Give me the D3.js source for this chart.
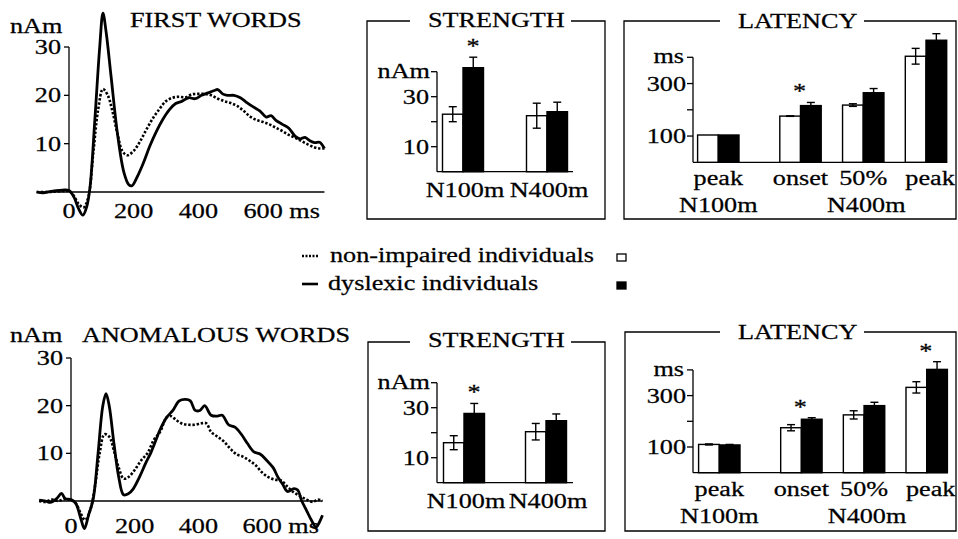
<!DOCTYPE html>
<html>
<head>
<meta charset="utf-8">
<script src="https://cdn.jsdelivr.net/npm/d3@7"></script>
<style>
  body { margin: 0; background: #fff; }
  svg { display: block; }
  text { font-family: "Liberation Serif", "DejaVu Serif", serif; font-size: 20px; fill: #000; stroke: #000; stroke-width: 0.25; }
  .axis-line { stroke: #000; stroke-width: 1.3; fill: none; }
  .frame { stroke: #000; stroke-width: 1.3; fill: none; }
</style>
</head>
<body>
<svg id="fig" width="958" height="539"></svg>
<script>
// ---- data ----
// waveforms: [ms, nAm]
var firstDyslexic = [[-100,0],[-80,-0.2],[-60,0.1],[-40,0.3],[-20,0.4],[0,0.3],[15,-1],[30,-3.5],[43,-4.8],[55,-3],[65,1],[80,15],[95,30],[105,37],[115,33],[130,24],[150,12],[170,4],[185,1.5],[195,1.3],[210,3],[230,6],[250,9.5],[270,12.5],[290,15],[310,17],[330,18.3],[350,18.8],[370,19.5],[390,19.3],[410,20],[430,20.5],[450,21],[460,21.2],[475,20.3],[490,20],[510,20],[530,19.5],[550,18.5],[570,17.6],[590,16.8],[610,15.5],[625,15.8],[640,14.8],[660,14],[680,13.2],[700,11.5],[715,11],[730,11.3],[745,10.6],[760,10.2],[775,10.3],[790,9]];
var firstControl = [[-100,0],[-60,0],[-20,0.2],[0,0.2],[15,-0.8],[30,-2.5],[45,-3.2],[60,-1],[75,8],[90,17],[105,21.3],[120,20],[135,16.5],[150,12],[165,8.5],[180,7.6],[200,8.5],[220,10.5],[240,13],[260,15.3],[280,17.2],[300,18.8],[320,19.5],[340,19.7],[360,19.6],[380,20.2],[400,20.3],[420,20.3],[440,20],[460,19.3],[480,18.8],[500,18.4],[520,17.8],[540,16.8],[560,15.6],[580,14.9],[600,14.5],[620,14],[640,13.3],[660,12.6],[680,11.8],[700,11.2],[720,10.5],[740,9.8],[760,9.2],[775,9],[790,9]];
var anomDyslexic = [[-100,0.2],[-80,0],[-65,-0.3],[-45,0.5],[-30,1.6],[-18,0.5],[0,0.3],[15,-0.5],[30,-3.5],[42,-5.8],[55,-3],[70,0.5],[85,10],[100,20],[110,22.5],[120,20],[135,12],[150,5],[165,1.3],[180,1.5],[195,2.5],[215,5],[235,8],[250,10],[265,12.5],[280,15],[300,17.5],[320,19],[340,21],[360,21.3],[375,21],[390,19],[405,19],[420,20],[440,18],[460,17.8],[475,18],[495,16],[515,15.5],[535,14],[555,12],[575,10.3],[595,9.8],[615,8.5],[635,7],[650,5],[665,3.5],[680,2],[700,2.6],[712,2.3],[725,0],[740,-2],[755,-4],[770,-5.5],[780,-4.5],[790,-3]];
var anomControl = [[-100,0],[-80,-0.2],[-60,0.3],[-40,0],[-20,0.4],[0,0.2],[15,-0.5],[30,-2.5],[44,-4],[60,-2],[75,3],[90,10],[105,14],[120,13.5],[135,10.5],[150,7],[165,4.7],[180,5],[200,6.5],[220,8.5],[240,10],[260,12.8],[280,14.5],[300,17.5],[315,17.8],[330,17],[350,16.2],[370,16],[390,16],[410,16.3],[425,16.3],[440,14.5],[460,13.5],[480,12.5],[500,11],[520,9.8],[540,9.3],[560,8.5],[580,7.5],[600,6],[620,5],[640,4.5],[660,4.3],[680,3],[700,1.8],[720,1],[740,0.3],[760,-0.2],[775,0.3],[790,0]];

var waveYTicks = [10, 20, 30];
var waveXTicks = [0, 200, 400, 600];

// strength bars (nAm)
var strengthCats = ["N100m", "N400m"];
var strengthTicks = [10, 20, 30, 40];
var strengthFirstControl = [23, 22.4];
var strengthFirstControlErr = [3, 5];
var strengthFirstDyslexic = [41.6, 24];
var strengthFirstDyslexicErr = [4.2, 3.8];
var strengthAnomControl = [16, 20.4];
var strengthAnomControlErr = [2.8, 3.3];
var strengthAnomDyslexic = [27.7, 24.8];
var strengthAnomDyslexicErr = [4, 2.7];
var strengthFirstStars = ["N100m"];
var strengthAnomStars = ["N100m"];

// latency bars (ms)
var latencyCats = ["peak", "onset", "50%", "peak "];
var latencySlots = [0, 1.31, 2.31, 3.31];
var latencyTicks = [100, 200, 300, 400];
var latencyFirstControl = [104, 176, 218, 404];
var latencyFirstControlErr = [0, 1, 5, 30];
var latencyFirstDyslexic = [104, 216, 265, 465];
var latencyFirstDyslexicErr = [0, 12, 16, 25];
var latencyAnomControl = [110, 175, 225, 332];
var latencyAnomControlErr = [2, 12, 16, 22];
var latencyAnomDyslexic = [108, 208, 261, 402];
var latencyAnomDyslexicErr = [2, 6, 13, 30];
var latencyFirstStars = ["onset"];
var latencyAnomStars = ["onset", "peak "];

var SX = 1.31; // the print is stretched sideways

var svg = d3.select("#fig");

/*
  addText: places a horizontally stretched text label
*/
function addText(sel, x, y, str, anchor) {
  return sel
    .append("text")
    .attr("transform", "translate(" + x + "," + y + ") scale(" + SX + ",1)")
    .attr("text-anchor", anchor || "start")
    .text(str);
}

/*
  drawWaveform: source strength curves of one condition
*/
function drawWaveform(cfg) {
  var g = svg.append("g");
  var x = d3.scaleLinear().domain([0, 600]).range(cfg.xRange);
  var y = d3.scaleLinear().domain([0, 30]).range(cfg.yRange);

  // axes
  g.append("line").attr("class", "axis-line")
    .attr("x1", x(0)).attr("x2", x(0))
    .attr("y1", y(30)).attr("y2", y(0));
  g.append("line").attr("class", "axis-line")
    .attr("x1", x(-100)).attr("x2", x(790))
    .attr("y1", y(0)).attr("y2", y(0));

  waveYTicks.forEach(function (t) {
    g.append("line").attr("class", "axis-line")
      .attr("x1", x(0) - 5).attr("x2", x(0))
      .attr("y1", y(t)).attr("y2", y(t));
    addText(g, x(0) - 8, y(t) + 7, t, "end");
  });

  waveXTicks.forEach(function (t) {
    if (t == 600) {
      addText(g, x(t) - 19.5, cfg.xLabelY, "600 ms", "start");
    } else {
      addText(g, x(t), cfg.xLabelY, t, "middle");
    }
  });

  var line = d3.line()
    .x(function (d) { return x(d[0]); })
    .y(function (d) { return y(d[1]); })
    .curve(d3.curveCatmullRom.alpha(0.5));

  g.append("path").datum(cfg.control)
    .attr("d", line)
    .attr("fill", "none").attr("stroke", "#000")
    .attr("stroke-width", 2.6).attr("stroke-dasharray", "2.4,1.8");

  g.append("path").datum(cfg.dyslexic)
    .attr("d", line)
    .attr("fill", "none").attr("stroke", "#000")
    .attr("stroke-width", 2.8).attr("stroke-linejoin", "round");

  addText(g, 10, cfg.unitY, "nAm");
  addText(g, cfg.titleX, cfg.titleY, cfg.title);
}

/*
  drawFrame: box with the title set into the top edge
*/
function drawFrame(g, box, title) {
  var b = box;
  g.append("path").attr("class", "frame")
    .attr("d", "M" + b.gapL + "," + b.top + "H" + b.left + "V" + b.bottom +
      "H" + b.right + "V" + b.top + "H" + b.gapR);
  addText(g, b.titleX, b.titleY, title);
}

/*
  drawBars: paired white/black bars with error bars
*/
function drawBars(g, pos, y, control, controlErr, dyslexic, dyslexicErr, bw) {
  var groups = pos.map(function (p, i) {
    return [
      { x: p - bw, v: control[i], e: controlErr[i], fill: "#fff" },
      { x: p, v: dyslexic[i], e: dyslexicErr[i], fill: "#000" },
    ];
  });
  var bars = d3.merge(groups);

  g.selectAll("rect.bar").data(bars).enter()
    .append("rect").attr("class", "bar")
    .attr("x", function (d) { return d.x; })
    .attr("y", function (d) { return y(d.v); })
    .attr("width", bw)
    .attr("height", function (d) { return y(0) - y(d.v); })
    .attr("fill", function (d) { return d.fill; })
    .attr("stroke", "#000").attr("stroke-width", 1.4);

  bars.forEach(function (d) {
    if (!d.e) return;
    var cx = d.x + bw / 2;
    var lo = d.fill == "#000" ? d.v : d.v - d.e;
    g.append("line").attr("x1", cx).attr("x2", cx)
      .attr("y1", y(d.v + d.e)).attr("y2", y(lo))
      .attr("stroke", "#000").attr("stroke-width", 1.4);
    g.append("line").attr("x1", cx - 4).attr("x2", cx + 4)
      .attr("y1", y(d.v + d.e)).attr("y2", y(d.v + d.e))
      .attr("stroke", "#000").attr("stroke-width", 1.4);
    if (d.fill != "#000") {
      g.append("line").attr("x1", cx - 4).attr("x2", cx + 4)
        .attr("y1", y(d.v - d.e)).attr("y2", y(d.v - d.e))
        .attr("stroke", "#000").attr("stroke-width", 1.4);
    }
  });
}

/*
  drawStrength: N100m / N400m source strength panel
*/
function drawStrength(cfg) {
  var g = svg.append("g");
  drawFrame(g, cfg.box, "STRENGTH");

  var y = d3.scaleLinear().domain([0, 40]).range(cfg.yRange);
  var xp = d3.scalePoint().domain(strengthCats).range(cfg.groupRange);
  var ax = cfg.axisX;

  g.append("line").attr("class", "axis-line")
    .attr("x1", ax).attr("x2", ax).attr("y1", y(40)).attr("y2", y(0));
  g.append("line").attr("class", "axis-line")
    .attr("x1", ax).attr("x2", ax + 136).attr("y1", y(0)).attr("y2", y(0));

  strengthTicks.forEach(function (t) {
    g.append("line").attr("class", "axis-line")
      .attr("x1", ax - 6).attr("x2", ax).attr("y1", y(t)).attr("y2", y(t));
  });
  addText(g, ax - 8, y(10) + 7, "10", "end");
  addText(g, ax - 8, y(30) + 7, "30", "end");
  addText(g, ax - 7, y(40) + 6, "nAm", "end");

  var pos = strengthCats.map(function (c) { return xp(c); });
  drawBars(g, pos, y, cfg.control, cfg.controlErr, cfg.dyslexic, cfg.dyslexicErr, 20.5);

  cfg.stars.forEach(function (c) {
    var i = strengthCats.indexOf(c);
    addText(g, xp(c) + 10, y(cfg.dyslexic[i] + cfg.dyslexicErr[i]) - 4, "*", "middle");
  });

  strengthCats.forEach(function (c) {
    addText(g, xp(c) + 2, cfg.labelY, c, "middle");
  });
}

/*
  drawLatency: peak / onset / 50% latency panel
*/
function drawLatency(cfg) {
  var g = svg.append("g");
  drawFrame(g, cfg.box, "LATENCY");

  var y = d3.scaleLinear().domain([0, 400]).range(cfg.yRange);
  var xs = d3.scaleLinear().domain([0, 3.31]).range(cfg.groupRange);
  var ax = cfg.axisX;

  g.append("line").attr("class", "axis-line")
    .attr("x1", ax).attr("x2", ax).attr("y1", y(400)).attr("y2", y(0));
  g.append("line").attr("class", "axis-line")
    .attr("x1", ax).attr("x2", xs(3.31) + 21).attr("y1", y(0)).attr("y2", y(0));

  latencyTicks.forEach(function (t) {
    g.append("line").attr("class", "axis-line")
      .attr("x1", ax - 6).attr("x2", ax).attr("y1", y(t)).attr("y2", y(t));
  });
  addText(g, ax - 7, y(100) + 7, "100", "end");
  addText(g, ax - 7, y(300) + 7, "300", "end");
  addText(g, ax - 9, y(400) + 6, "ms", "end");

  var pos = latencySlots.map(function (s) { return xs(s); });
  drawBars(g, pos, y, cfg.control, cfg.controlErr, cfg.dyslexic, cfg.dyslexicErr, 20.7);

  cfg.stars.forEach(function (c) {
    var i = latencyCats.indexOf(c);
    addText(g, pos[i] - 1, y(cfg.dyslexic[i] + cfg.dyslexicErr[i]) - 4, "*", "middle");
  });

  latencyCats.forEach(function (c, i) {
    addText(g, pos[i] + (i == 3 ? 4 : 0), cfg.labelY1, c.trim(), "middle");
  });
  addText(g, pos[0], cfg.labelY2, "N100m", "middle");
  addText(g, (pos[1] + pos[3]) / 2 + 3, cfg.labelY2, "N400m", "middle");
}

/*
  drawLegend: line styles and bar fills
*/
function drawLegend() {
  var g = svg.append("g");
  g.append("line").attr("x1", 302).attr("x2", 318).attr("y1", 256).attr("y2", 256)
    .attr("stroke", "#000").attr("stroke-width", 2.4).attr("stroke-dasharray", "2,1.5");
  addText(g, 330, 262, "non-impaired individuals");
  g.append("rect").attr("x", 617).attr("y", 254).attr("width", 9).attr("height", 7)
    .attr("fill", "#fff").attr("stroke", "#000").attr("stroke-width", 1.3);

  g.append("line").attr("x1", 302).attr("x2", 318).attr("y1", 284).attr("y2", 284)
    .attr("stroke", "#000").attr("stroke-width", 2.6);
  addText(g, 328, 290, "dyslexic individuals");
  g.append("rect").attr("x", 617).attr("y", 282).attr("width", 9).attr("height", 7)
    .attr("fill", "#000").attr("stroke", "#000").attr("stroke-width", 1.3);
}

drawWaveform({
  xRange: [69, 263], yRange: [192, 47], xLabelY: 218,
  control: firstControl, dyslexic: firstDyslexic,
  title: "FIRST WORDS", titleX: 130, titleY: 27, unitY: 33,
});
drawWaveform({
  xRange: [71, 262], yRange: [501, 358], xLabelY: 533,
  control: anomControl, dyslexic: anomDyslexic,
  title: "ANOMALOUS WORDS", titleX: 82, titleY: 342, unitY: 342,
});

drawStrength({
  box: { left: 367, right: 605, top: 21, bottom: 219, gapL: 410, gapR: 571, titleX: 428, titleY: 27 },
  yRange: [171.7, 71.7], groupRange: [463, 547], axisX: 437, labelY: 197,
  control: strengthFirstControl, controlErr: strengthFirstControlErr,
  dyslexic: strengthFirstDyslexic, dyslexicErr: strengthFirstDyslexicErr,
  stars: strengthFirstStars,
});
drawStrength({
  box: { left: 368, right: 605, top: 342, bottom: 531, gapL: 410, gapR: 571, titleX: 428, titleY: 347 },
  yRange: [482.7, 382.7], groupRange: [464, 546], axisX: 437, labelY: 508,
  control: strengthAnomControl, controlErr: strengthAnomControlErr,
  dyslexic: strengthAnomDyslexic, dyslexicErr: strengthAnomDyslexicErr,
  stars: strengthAnomStars,
});

drawLatency({
  box: { left: 624, right: 956, top: 21, bottom: 219, gapL: 720, gapR: 864, titleX: 738, titleY: 28 },
  yRange: [162.3, 57.3], groupRange: [718.3, 926], axisX: 693, labelY1: 185, labelY2: 212,
  control: latencyFirstControl, controlErr: latencyFirstControlErr,
  dyslexic: latencyFirstDyslexic, dyslexicErr: latencyFirstDyslexicErr,
  stars: latencyFirstStars,
});
drawLatency({
  box: { left: 625, right: 956, top: 332, bottom: 531, gapL: 720, gapR: 864, titleX: 738, titleY: 339 },
  yRange: [472.7, 369.9], groupRange: [719.3, 926.7], axisX: 693, labelY1: 496, labelY2: 523,
  control: latencyAnomControl, controlErr: latencyAnomControlErr,
  dyslexic: latencyAnomDyslexic, dyslexicErr: latencyAnomDyslexicErr,
  stars: latencyAnomStars,
});

drawLegend();
</script>
</body>
</html>
